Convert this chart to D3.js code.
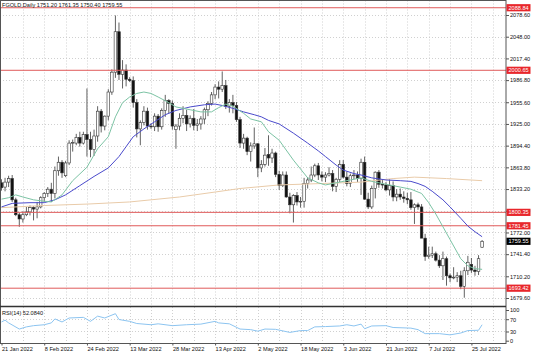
<!DOCTYPE html>
<html><head><meta charset="utf-8">
<script src="https://cdn.jsdelivr.net/npm/d3@7"></script>
<style>
body{margin:0;background:#fff}
svg{display:block;font-family:"Liberation Sans",Arial,sans-serif}
</style>
</head><body>
<svg id="c" width="536" height="355"></svg>
<script>
// ---------- DATA ----------
const symbolLabel = "FGOLD,Daily  1751.20 1761.35 1750.40 1759.55";
const rsiLabel = "RSI(14) 52.0840";
const dateLabels = ["21 Jan 2022","8 Feb 2022","24 Feb 2022","13 Mar 2022","28 Mar 2022","13 Apr 2022","2 May 2022","18 May 2022","3 Jun 2022","21 Jun 2022","7 Jul 2022","25 Jul 2022"];
const dateLabelBars = [0,12,24,36,48,60,72,84,96,108,120,132];
const priceTicks = [2078.60,2048.00,2017.40,1986.80,1955.60,1925.00,1894.40,1863.80,1833.20,1802.60,1772.00,1741.40,1710.20,1679.60];
const rsiTicks = [100,70,30,0];
const rsiLevels = [70,30];
const levels = [2088.84,2000.65,1800.35,1781.45,1693.42];
const lastPrice = 1759.55;

const open = [1842,1836,1843,1848,1818,1797,1791,1797,1801,1807,
 1805,1808,1821,1827,1833,1827,1859,1871,1852,1870,
 1898,1898,1906,1898,1910,1903,1889,1908,1943,1922,
 1936,1970,1998,2055,1995,2001,1988,1986,1955,1918,
 1927,1943,1922,1921,1936,1921,1944,1958,1954,1917,
 1922,1933,1937,1925,1933,1923,1925,1932,1945,1954,
 1966,1977,1974,1979,1950,1955,1951,1931,1898,1905,
 1886,1894,1897,1863,1868,1882,1877,1884,1854,1838,
 1853,1822,1811,1824,1815,1816,1841,1846,1853,1866,
 1853,1850,1853,1855,1837,1847,1868,1850,1841,1852,
 1853,1848,1871,1819,1808,1834,1857,1840,1839,1832,
 1838,1822,1826,1822,1820,1818,1807,1811,1808,1764,
 1738,1740,1742,1733,1725,1735,1711,1708,1709,1711,
 1696,1718,1727,1719,1717,1751.20];
const high = [1847,1849,1852,1853,1821,1800,1802,1808,1810,1809,
 1815,1823,1829,1836,1842,1865,1879,1874,1873,1902,
 1903,1911,1914,1914,1975,1914,1917,1950,1946,1937,
 1974,2002,2078,2068,2015,2009,1991,1992,1960,1930,
 1950,1948,1926,1940,1939,1947,1966,1960,1958,1925,
 1940,1950,1945,1937,1946,1932,1936,1948,1957,1970,
 1981,1985,1999,1987,1960,1966,1956,1935,1911,1907,
 1899,1920,1898,1874,1891,1909,1890,1886,1859,1858,
 1858,1828,1826,1829,1822,1849,1850,1865,1869,1870,
 1858,1857,1864,1860,1849,1874,1874,1858,1855,1860,
 1858,1876,1879,1828,1838,1858,1860,1847,1843,1847,
 1844,1833,1834,1830,1828,1829,1813,1814,1812,1770,
 1752,1752,1745,1740,1745,1738,1714,1723,1716,1718,
 1723,1739,1736,1725,1740,1761.35];
const low = [1831,1830,1836,1815,1795,1780,1786,1795,1796,1789,
 1792,1806,1815,1822,1815,1820,1852,1849,1850,1867,
 1886,1895,1893,1896,1879,1878,1880,1900,1913,1916,
 1930,1966,1990,1987,1975,1978,1984,1948,1906,1895,
 1923,1917,1918,1915,1914,1917,1935,1940,1917,1890,
 1916,1926,1915,1920,1916,1915,1917,1925,1936,1951,
 1960,1961,1970,1946,1941,1940,1928,1891,1890,1881,
 1872,1890,1850,1857,1865,1866,1870,1850,1832,1836,
 1821,1799,1786,1810,1807,1807,1834,1843,1850,1846,
 1844,1843,1851,1830,1829,1843,1848,1837,1836,1847,
 1843,1825,1818,1805,1805,1820,1835,1834,1830,1824,
 1816,1816,1818,1814,1812,1804,1784,1804,1764,1732,
 1735,1736,1731,1722,1705,1697,1702,1706,1702,1692,
 1680,1712,1715,1711,1712,1750.40];
const close = [1835,1843,1848,1818,1797,1791,1797,1801,1807,1805,
 1808,1821,1827,1833,1827,1859,1871,1856,1870,1898,
 1899,1906,1898,1910,1903,1889,1908,1943,1922,1936,
 1970,1998,2055,1995,2001,1988,1986,1955,1918,1927,
 1943,1922,1921,1936,1921,1944,1958,1954,1922,1922,
 1933,1937,1925,1933,1923,1925,1932,1945,1954,1966,
 1977,1974,1979,1950,1955,1951,1931,1898,1905,1886,
 1894,1897,1863,1868,1881,1877,1884,1854,1838,1853,
 1822,1811,1824,1815,1816,1841,1846,1853,1866,1853,
 1850,1853,1855,1837,1847,1868,1850,1841,1852,1853,
 1848,1871,1819,1808,1834,1857,1840,1839,1832,1838,
 1822,1826,1822,1820,1818,1807,1811,1808,1764,1738,
 1740,1742,1733,1725,1735,1711,1708,1709,1711,1696,
 1718,1730,1719,1717,1735,1759.55];

// moving averages (bar index, price)
const greenIdx = [0,2,4,6,9,12,14,17,20,24,27,30,32,34,36,38,40,42,44,47,49,53,56,59,61,63,65,68,70,73,75,78,82,86,89,91,95,98,101,104,108,112,115,118,120,122,124,126,129,131,133,135];
const greenVal = [1819,1821,1825,1822,1818,1816,1815,1825,1845,1864,1890,1907,1935,1955,1963,1968,1970,1968,1963,1955,1949,1945,1942,1942,1948,1953,1950,1940,1932,1928,1914,1902,1874,1849,1842,1839,1843,1846,1849,1844,1840,1836,1833,1827,1814,1798,1780,1762,1735,1725,1721,1720];
const blueIdx = [0,3,8,12,15,18,22,26,30,33,35,37,40,43,46,49,53,57,60,62,65,68,71,73,75,78,82,86,89,91,94,96,99,101,104,108,112,115,117,119,121,124,126,129,131,133,135];
const blueVal = [1808,1813,1814,1814,1818,1825,1838,1851,1863,1879,1893,1907,1918,1928,1938,1944,1949,1952,1953,1951,1947,1942,1938,1935,1930,1925,1912,1898,1887,1879,1867,1860,1855,1853,1849,1846,1845,1844,1841,1837,1830,1818,1808,1792,1781,1773,1766];
const tanIdx = [0,12,24,36,50,60,67,78,90,101,110,116,125,135];
const tanVal = [1807,1810,1812,1815,1822,1829,1834,1839,1841,1843,1848,1850,1848,1845];

// RSI(14)
const rsiIdx = [0,1,2,5,7,9,12,14,15,17,19,23,25,27,29,32,33,36,38,42,44,48,52,56,60,61,64,67,70,72,74,77,81,84,86,88,91,95,97,99,101,102,104,108,110,115,117,119,123,126,129,131,134,135];
const rsiVal = [61,67,58,38,45,49,52,58,71,61,74,76,63,80,74,88,69,63,56,52,55,49,52,54,63,58,55,38,36,31,38,37,27,33,33,45,46,48,52,48,54,39,48,49,43,41,36,23,23,19,25,33,34,52];

// ---------- DRAW ----------
const svg = d3.select("#c");
const FS = 5.6;
const axisX = 506, mainTop = 0.5, mainBot = 306, rsiTop = 307, rsiBot = 343.5;

const x = d3.scaleLinear().domain([0,135]).range([1.5,482.1]);
const y = d3.scaleLinear().domain([1679.6,2078.6]).range([298,15]);
const yr = d3.scaleLinear().domain([0,100]).range([340.7,310]);

const bars = open.map((o,i)=>({i,o,h:high[i],l:low[i],c:close[i]}));

svg.append("rect").attr("width",536).attr("height",355).attr("fill","#fff");

svg.append("defs").html(
 `<clipPath id="cm"><rect x="0" y="${mainTop}" width="${axisX}" height="${mainBot-mainTop}"/></clipPath>
  <clipPath id="cr"><rect x="0" y="${rsiTop}" width="${axisX}" height="${rsiBot-rsiTop}"/></clipPath>`);

const gridColor = "#c4c4c4";
const vGrid = d3.range(6,139,6);
// main grid
const gm = svg.append("g").attr("clip-path","url(#cm)");
gm.selectAll("line.v").data(vGrid).join("line")
  .attr("x1",d=>Math.round(x(d))+0.5).attr("x2",d=>Math.round(x(d))+0.5)
  .attr("y1",mainTop).attr("y2",mainBot)
  .attr("stroke",gridColor).attr("stroke-width",0.8).attr("stroke-dasharray","1,2");
gm.selectAll("line.h").data(priceTicks).join("line")
  .attr("x1",0).attr("x2",axisX)
  .attr("y1",d=>Math.round(y(d))+0.5).attr("y2",d=>Math.round(y(d))+0.5)
  .attr("stroke",gridColor).attr("stroke-width",0.8).attr("stroke-dasharray","1,2");

// candles
const gc = gm.append("g");
gc.selectAll("line.w").data(bars).join("line")
  .attr("x1",d=>x(d.i)).attr("x2",d=>x(d.i))
  .attr("y1",d=>y(d.h)).attr("y2",d=>y(d.l))
  .attr("stroke","#3a3a3a").attr("stroke-width",0.8);
const bw = 2.6;
gc.selectAll("rect.b").data(bars).join("rect")
  .attr("x",d=>x(d.i)-bw/2).attr("width",bw)
  .attr("y",d=>y(Math.max(d.o,d.c)))
  .attr("height",d=>Math.max(0.8,Math.abs(y(d.o)-y(d.c))))
  .attr("fill",d=>d.c>=d.o?"#fff":"#111")
  .attr("stroke","#333").attr("stroke-width",0.6);

// red level lines
gm.selectAll("line.lv").data(levels).join("line")
  .attr("x1",0).attr("x2",axisX)
  .attr("y1",d=>y(d)).attr("y2",d=>y(d))
  .attr("stroke","#e05a5a").attr("stroke-width",1);

// moving averages
const line = d3.line().x(d=>x(d[0])).y(d=>y(d[1]));
const ma = [[tanIdx,tanVal,"#e9cba9"],[blueIdx,blueVal,"#4a4acb"],[greenIdx,greenVal,"#7cc3a4"]];
ma.forEach(([ix,vv,col])=>{
  gm.append("path").attr("d",line(ix.map((k,j)=>[k,vv[j]])))
    .attr("fill","none").attr("stroke",col).attr("stroke-width",1);
});

// RSI panel
const gr = svg.append("g").attr("clip-path","url(#cr)");
gr.selectAll("line.v").data(vGrid).join("line")
  .attr("x1",d=>Math.round(x(d))+0.5).attr("x2",d=>Math.round(x(d))+0.5)
  .attr("y1",rsiTop).attr("y2",rsiBot)
  .attr("stroke",gridColor).attr("stroke-width",0.8).attr("stroke-dasharray","1,2");
gr.selectAll("line.h").data(rsiLevels).join("line")
  .attr("x1",0).attr("x2",axisX)
  .attr("y1",d=>Math.round(yr(d))+0.5).attr("y2",d=>Math.round(yr(d))+0.5)
  .attr("stroke",gridColor).attr("stroke-width",0.8).attr("stroke-dasharray","1,2");
const rline = d3.line().x(d=>x(d[0])).y(d=>yr(d[1]));
gr.append("path").attr("d",rline(rsiIdx.map((k,j)=>[k,rsiVal[j]])))
  .attr("fill","none").attr("stroke","#8cc4f0").attr("stroke-width",1);

// frames
const fr = svg.append("g").attr("fill","none").attr("stroke","#555");
fr.append("rect").attr("x",0.5).attr("y",0.5).attr("width",axisX-0.5).attr("height",rsiBot-0.5).attr("stroke-width",1);
fr.append("line").attr("x1",0).attr("x2",axisX).attr("y1",mainBot+0.5).attr("y2",mainBot+0.5).attr("stroke","#333").attr("stroke-width",1.6);

// price axis
const ya = svg.append("g").attr("transform",`translate(${axisX},0)`)
  .call(d3.axisRight(y).tickValues(priceTicks).tickSize(3).tickPadding(1).tickFormat(d3.format(".2f")));
ya.select(".domain").remove();
ya.selectAll("line").attr("stroke","#555");
ya.selectAll("text").attr("font-size",FS).attr("fill","#111").attr("font-family","Liberation Sans, Arial, sans-serif");

// rsi axis
const ra = svg.append("g").attr("transform",`translate(${axisX},0)`)
  .call(d3.axisRight(yr).tickValues(rsiTicks).tickSize(3).tickPadding(1).tickFormat(d3.format("d")));
ra.select(".domain").remove();
ra.selectAll("line").attr("stroke","#555");
ra.selectAll("text").attr("font-size",FS).attr("fill","#111").attr("font-family","Liberation Sans, Arial, sans-serif");

// level labels
const lb = svg.append("g");
lb.selectAll("rect").data(levels).join("rect")
  .attr("x",axisX+0.5).attr("y",d=>y(d)-3.6).attr("width",24).attr("height",7.2).attr("fill","#e8262b");
lb.selectAll("text").data(levels).join("text")
  .attr("x",axisX+2.5).attr("y",d=>y(d)+2.1).attr("font-size",FS).attr("fill","#fff")
  .text(d=>d3.format(".2f")(d));
svg.append("rect").attr("x",axisX+0.5).attr("y",y(lastPrice)-3.6).attr("width",24).attr("height",7.2).attr("fill","#000");
svg.append("text").attr("x",axisX+2.5).attr("y",y(lastPrice)+2.1).attr("font-size",FS).attr("fill","#fff").text(d3.format(".2f")(lastPrice));

// time axis
const xa = svg.append("g").attr("transform",`translate(0,${rsiBot})`)
  .call(d3.axisBottom(x).tickValues(dateLabelBars).tickSize(2).tickFormat((d,i)=>dateLabels[i]));
xa.select(".domain").remove();
xa.selectAll("line").attr("stroke","#555");
xa.selectAll("text").attr("font-size",FS).attr("fill","#111").attr("text-anchor","start")
  .attr("font-family","Liberation Sans, Arial, sans-serif").attr("y",3.2).attr("dx",0);

// panel captions
svg.append("text").attr("x",2).attr("y",7).attr("font-size",FS).attr("fill","#111").text(symbolLabel);
svg.append("text").attr("x",2).attr("y",315).attr("font-size",FS).attr("fill","#111").text(rsiLabel);
</script>
</body></html>
